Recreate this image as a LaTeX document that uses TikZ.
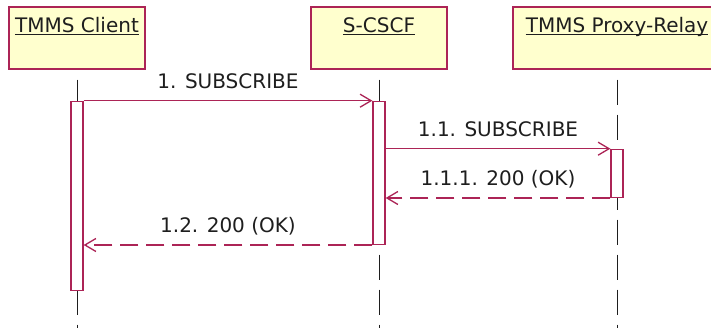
\documentclass[tikz,border=0pt]{standalone}
\usepackage{fontspec}
\setmainfont{DejaVu Sans}
\usetikzlibrary{arrows.meta,positioning,calc}
\definecolor{wine}{RGB}{172,36,86}
\definecolor{cream}{RGB}{255,255,206}
\definecolor{ink}{RGB}{30,30,30}
\tikzset{
  >={Straight Barb[length=11pt,width=13pt]},
  lifebox/.style={draw=wine,fill=cream,line width=1.4pt,minimum height=62pt,inner sep=0pt},
  boxtitle/.style={font=\fontsize{20}{24}\selectfont,text=ink,anchor=base,inner sep=0pt},
  lifeline/.style={draw=ink,line width=1pt,dash pattern=on 25pt off 10pt},
  bar/.style={draw=wine,fill=white,line width=1.3pt,minimum width=12pt,inner sep=0pt},
  call/.style={->,draw=wine,line width=1.3pt},
  reply/.style={call,dash pattern=on 18pt off 8pt},
  msglabel/.style={font=\fontsize{20}{24}\selectfont,text=ink,anchor=base,inner sep=0pt,yshift=12pt},
}

\begin{document}
\begin{tikzpicture}[x=1pt,y=-1pt]
  \useasboundingbox (0,0) rectangle (711,328);
  \clip (0,0) rectangle (711,328);
  \fill[white] (0,0) rectangle (711,328);
  % objects and lifelines
  \foreach \n/\x/\w/\t in {client/77/136/TMMS Client, cscf/379/136/S-CSCF, relay/617/208/TMMS Proxy-Relay}
  {
    \node[lifebox,minimum width=\w pt] (\n) at (\x,38) {};
    \node[boxtitle] (\n-name) at ([yshift=-26pt]\n.north) {\t};
    \draw[ink,line width=1pt] ([yshift=-2.5pt]\n-name.base west) -- ([yshift=-2.5pt]\n-name.base east);
    \coordinate (\n-end) at (\x,328);
    \draw[lifeline] ([yshift=-10pt]\n.south) -- (\n-end);
  }
  % activations
  \node[bar,minimum height=189pt,below=31pt of client] (clientbar) {};
  \node[bar,minimum height=143pt,below=31pt of cscf] (cscfbar) {};
  \node[bar,minimum height=48pt,below=79pt of relay] (relaybar) {};
  % messages
  \draw[call] (clientbar.north east) -- node[msglabel] (m1) {1. SUBSCRIBE} (cscfbar.north west);
  \draw[call] (cscfbar.east |- relaybar.north) -- node[msglabel] (m2) {1.1. SUBSCRIBE} (relaybar.north west);
  \draw[reply] (relaybar.south west) -- node[msglabel] (m3) {1.1.1. 200 (OK)} (cscfbar.east |- relaybar.south);
  \draw[reply] (cscfbar.south west) -- node[msglabel] (m4) {1.2. 200 (OK)} (clientbar.east |- cscfbar.south);
\end{tikzpicture}
\end{document}
